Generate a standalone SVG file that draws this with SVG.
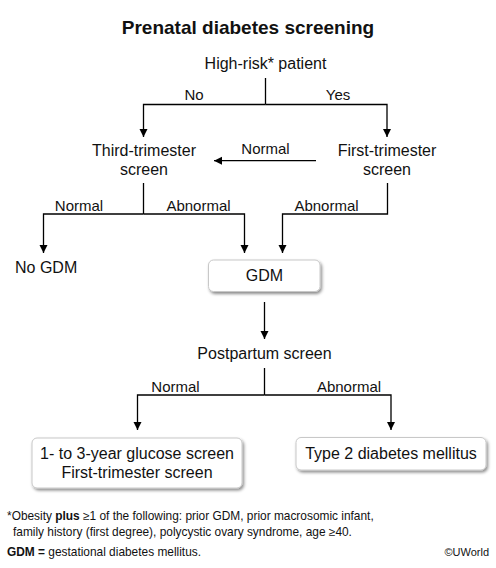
<svg xmlns="http://www.w3.org/2000/svg" width="496" height="568" viewBox="0 0 496 568">
<defs>
<marker id="arr" markerUnits="userSpaceOnUse" markerWidth="8" markerHeight="9" refX="8" refY="4" orient="auto">
<path d="M0,0 L8,4 L0,8 z" fill="#000"/>
</marker>
<filter id="sh" x="-10%" y="-20%" width="130%" height="150%">
<feDropShadow dx="1.5" dy="2" stdDeviation="1.5" flood-color="#000" flood-opacity="0.45"/>
</filter>
<style>
text{font-family:"Liberation Sans",Arial,sans-serif;fill:#111}
.t{font-size:19px;font-weight:bold;text-anchor:middle}
.n{font-size:16px;text-anchor:middle}
.l{font-size:15px;text-anchor:middle}
.f{font-size:11.9px}
.c path{fill:none;stroke:#000;stroke-width:1.3}
.a{marker-end:url(#arr)}
.box{fill:#fff;stroke:#c8c8c8;stroke-width:1;filter:url(#sh)}
</style>
</defs>
<rect width="496" height="568" fill="#fff"/>
<text class="t" x="248" y="34">Prenatal diabetes screening</text>

<g id="connectors" class="c">
<path d="M265.5,78 V104.5"/>
<path class="a" d="M265.5,104.5 H143.5 V137"/>
<path class="a" d="M265.5,104.5 H387 V137"/>
<path class="a" d="M316,160.7 H214"/>
<path d="M143.5,183 V214"/>
<path class="a" d="M143.5,214 H43.5 V253"/>
<path class="a" d="M143.5,214 H244.5 V253"/>
<path class="a" d="M387.5,183 V214 H282.5 V253"/>
<path class="a" d="M264.5,302 V339"/>
<path d="M264.5,368 V395"/>
<path class="a" d="M264.5,395 H137.5 V430"/>
<path class="a" d="M264.5,395 H391 V430"/>
</g>

<g id="edge-labels">
<text class="l" x="194" y="100">No</text>
<text class="l" x="338" y="100">Yes</text>
<text class="l" x="265.5" y="154">Normal</text>
<text class="l" x="79" y="210.5">Normal</text>
<text class="l" x="198.5" y="210.5">Abnormal</text>
<text class="l" x="326.5" y="210.5">Abnormal</text>
<text class="l" x="175.5" y="391.5">Normal</text>
<text class="l" x="349" y="391.5">Abnormal</text>
</g>

<g id="high-risk"><text class="n" x="265.5" y="69">High-risk* patient</text></g>
<g id="third-trimester"><text class="n" x="144" y="155.5">Third-trimester</text><text class="n" x="144" y="175">screen</text></g>
<g id="first-trimester"><text class="n" x="387" y="155.5">First-trimester</text><text class="n" x="387" y="175">screen</text></g>
<g id="no-gdm"><text class="n" x="15" y="273" style="text-anchor:start">No GDM</text></g>
<g id="gdm"><rect class="box" x="208.5" y="260" width="111.5" height="31.5" rx="5"/><text class="n" x="264.5" y="281">GDM</text></g>
<g id="postpartum"><text class="n" x="264.5" y="359">Postpartum screen</text></g>
<g id="glucose-screen"><rect class="box" x="32" y="438" width="210" height="50" rx="5"/><text class="n" x="137" y="459">1- to 3-year glucose screen</text><text class="n" x="137" y="477.5">First-trimester screen</text></g>
<g id="t2dm"><rect class="box" x="296" y="437.5" width="190" height="32.5" rx="5"/><text class="n" x="391" y="459">Type 2 diabetes mellitus</text></g>

<g id="footnote">
<text class="f" x="7" y="520">*Obesity <tspan font-weight="bold">plus</tspan> ≥1 of the following: prior GDM, prior macrosomic infant,</text>
<text class="f" x="13" y="536">family history (first degree), polycystic ovary syndrome, age ≥40.</text>
<text class="f" x="7" y="556"><tspan font-weight="bold">GDM =</tspan> gestational diabetes mellitus.</text>
<text class="f" x="489" y="556" style="text-anchor:end;font-size:11px">©UWorld</text>
</g>
</svg>
